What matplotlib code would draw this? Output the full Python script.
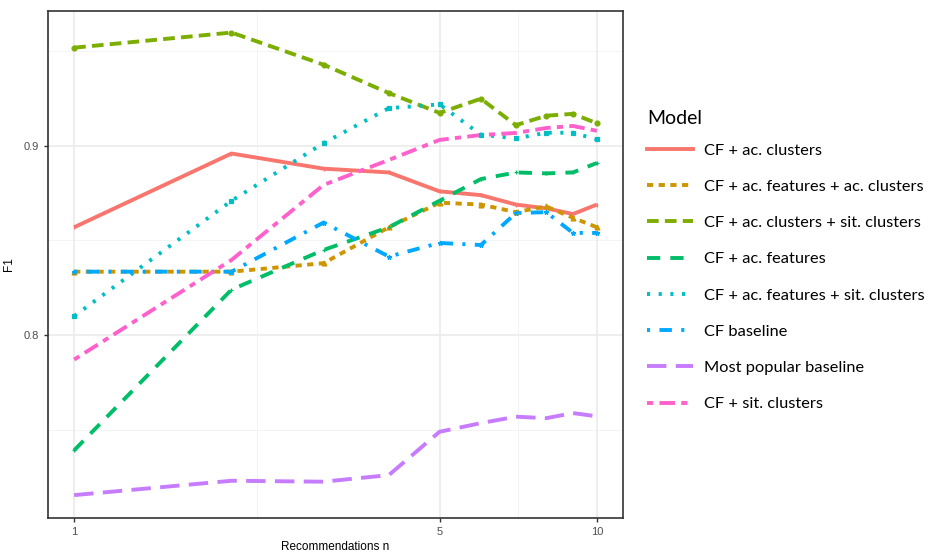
import matplotlib
matplotlib.use("Agg")
import matplotlib.pyplot as plt
from matplotlib.lines import Line2D
import numpy as np

n = [1, 2, 3, 4, 5, 6, 7, 8, 9, 10]

models = [
    "CF + ac. clusters",
    "CF + ac. features + ac. clusters",
    "CF + ac. clusters + sit. clusters",
    "CF + ac. features",
    "CF + ac. features + sit. clusters",
    "CF baseline",
    "Most popular baseline",
    "CF + sit. clusters",
]

f1_ac_clusters = [0.857, 0.896, 0.888, 0.886, 0.876, 0.874, 0.869, 0.867, 0.864, 0.869]
f1_acf_acc = [0.8335, 0.8335, 0.838, 0.857, 0.870, 0.869, 0.865, 0.868, 0.862, 0.857]
f1_acc_sitc = [0.952, 0.960, 0.943, 0.928, 0.9175, 0.925, 0.911, 0.916, 0.917, 0.912]
f1_ac_features = [0.739, 0.824, 0.845, 0.857, 0.871, 0.8825, 0.886, 0.8855, 0.886, 0.891]
f1_acf_sitc = [0.810, 0.871, 0.9015, 0.920, 0.922, 0.906, 0.904, 0.907, 0.907, 0.9035]
f1_cf_baseline = [0.8335, 0.8335, 0.8595, 0.8415, 0.8487, 0.8476, 0.8645, 0.865, 0.854, 0.854]
f1_most_popular = [0.7153, 0.7229, 0.7224, 0.7259, 0.7488, 0.7534, 0.7568, 0.756, 0.7587, 0.757]
f1_sit_clusters = [0.787, 0.8397, 0.8794, 0.8926, 0.9032, 0.9058, 0.9069, 0.9095, 0.9106, 0.908]

series = [f1_ac_clusters, f1_acf_acc, f1_acc_sitc, f1_ac_features,
          f1_acf_sitc, f1_cf_baseline, f1_most_popular, f1_sit_clusters]

colors = ["#F8766D", "#CD9600", "#7CAE00", "#00BE67",
          "#00BFC4", "#00A9FF", "#C77CFF", "#FF61CC"]
dashes = [None, (1.6, 1.4), (3.0, 1.6), (3.4, 2.6),
          (0.8, 2.2), (0.8, 2.4, 3.2, 2.4), (5.0, 2.4), (1.6, 1.6, 4.0, 1.6)]
markers = ["|", "^", "o", "+", "s", "*", None, None]

fig = plt.figure(figsize=(9.35, 5.53), dpi=100)
ax = fig.add_axes([48/935, 1-518/553, (623-48)/935, (518-11)/553])

ax.set_xscale("log")
lx0, lx1 = -0.05, 1.05
ax.set_xlim(10**lx0, 10**lx1)
ax.set_ylim(0.7032, 0.9714)

# gridlines
for v in [0.75, 0.85, 0.95]:
    ax.axhline(v, color="#F2F2F2", lw=0.6, zorder=0)
for v in [0.8, 0.9]:
    ax.axhline(v, color="#EBEBEB", lw=1.2, zorder=0)
for v in [10**(np.log10(5)/2), 10**((np.log10(5)+1)/2)]:
    ax.axvline(v, color="#F2F2F2", lw=0.6, zorder=0)
for v in [1, 5, 10]:
    ax.axvline(v, color="#EBEBEB", lw=1.2, zorder=0)

for vals, c, d, m in zip(series, colors, dashes, markers):
    kw = dict(color=c, lw=2.8, solid_capstyle="butt", dash_capstyle="butt", zorder=3)
    line, = ax.plot(n, vals, **kw)
    if d is not None:
        line.set_dashes(d)
    if m is not None:
        ax.plot(n, vals, linestyle="none", marker=m, color=c, ms=3.5, mew=0.9, zorder=4)

ax.set_xticks([1, 5, 10])
ax.set_xticklabels(["1", "5", "10"])
ax.xaxis.set_minor_locator(matplotlib.ticker.NullLocator())
ax.set_yticks([0.8, 0.9])
ax.set_yticklabels(["0.8", "0.9"])
ax.tick_params(axis="both", colors="#333333", labelcolor="#4D4D4D", labelsize=8, length=3, width=1)

for s in ax.spines.values():
    s.set_color("#333333")
    s.set_linewidth(1.2)

ax.set_xlabel("Recommendations n", fontsize=8.5, color="black", labelpad=3, family="Liberation Sans")
ax.set_ylabel("F1", fontsize=8.5, color="black", labelpad=6, family="Liberation Sans")
for lab in ax.get_xticklabels() + ax.get_yticklabels():
    lab.set_family("Liberation Sans")

handles = []
for c, d, m in zip(colors, dashes, markers):
    h = Line2D([0], [0], color=c, lw=2.8)
    if d is not None:
        h.set_dashes(d)
    handles.append(h)

leg = fig.legend(handles, models, loc="upper left", bbox_to_anchor=(644/935, 1-107/553),
                 frameon=False, title="Model", handlelength=2.8, handletextpad=0.65,
                 labelspacing=1.33, borderaxespad=0.0, borderpad=0.2,
                 prop={"family": "Lato", "size": 11.8})
leg.get_title().set_fontsize(14)
leg.get_title().set_family("Lato")
leg._legend_box.align = "left"
leg._legend_box.sep = 11.4

fig.savefig("out.png", dpi=100)
